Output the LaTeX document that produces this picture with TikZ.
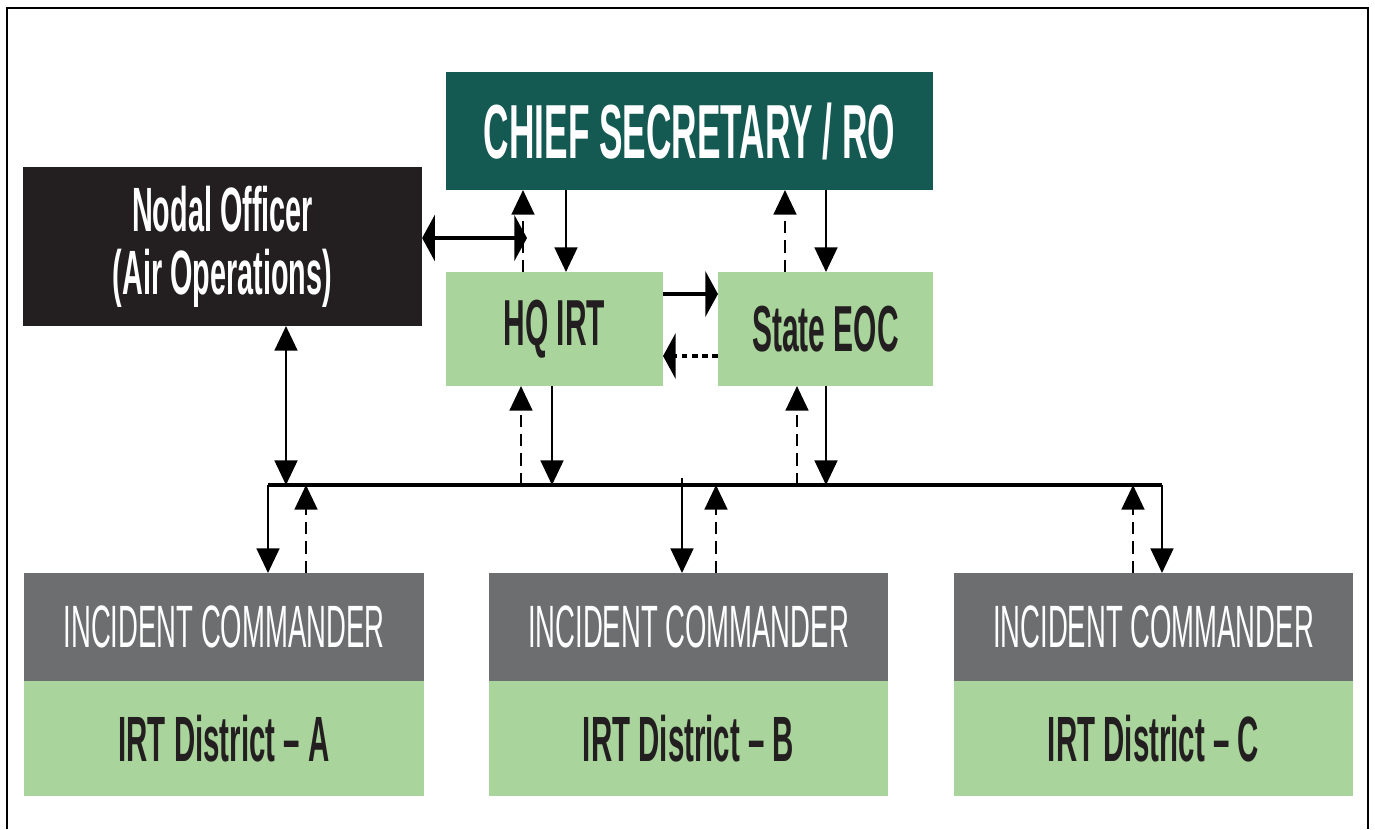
\documentclass[tikz,border=0pt]{standalone}
\usepackage{fontspec}
\usetikzlibrary{arrows.meta}
\newfontfamily\condfont[FakeStretch=0.46]{Liberation Sans}
\definecolor{chiefgreen}{RGB}{20,90,82}
\definecolor{nodalblack}{RGB}{35,31,32}
\definecolor{lightgreen}{RGB}{169,212,155}
\definecolor{icgray}{RGB}{109,110,112}
\begin{document}
\begin{tikzpicture}[x=0.01cm,y=-0.01cm]
        % Styles
        \tikzstyle{box}=[inner sep=0pt,outer sep=0pt,text=nodalblack]
        \tikzstyle{vline}=[line width=0.6pt,>={Triangle[length=7pt,width=6.5pt]}]
        \tikzstyle{hline}=[line width=1.4pt,>={Triangle[length=3.6pt,width=13pt]}]
        \tikzstyle{report}=[dash pattern=on 3.5pt off 2pt]
        \tikzstyle{hreport}=[dash pattern=on 1.6pt off 1.3pt]
        \useasboundingbox (0,0) rectangle (1375,829);
        %frame
        \draw[line width=0.8pt] (7,829) -- (7,8) -- (1368,8) -- (1368,829);
        %boxes
        \node[box,fill=chiefgreen,text=white,minimum width=4.87cm,minimum height=1.18cm,
              font=\condfont\bfseries\fontsize{21.8}{24}\selectfont] (chief) at (689.5,131) {CHIEF SECRETARY / RO};
        \node[box,fill=nodalblack,text=white,minimum width=3.99cm,minimum height=1.59cm,align=center,
              font=\condfont\bfseries\fontsize{17.8}{17.9}\selectfont] (nodal) at (222.5,246.5) {Nodal Officer\\(Air Operations)};
        \node[box,fill=lightgreen,minimum width=2.17cm,minimum height=1.14cm,
              font=\condfont\bfseries\fontsize{18.5}{20}\selectfont] (hq) at (554.5,329) {HQ IRT};
        \node[box,fill=lightgreen,minimum width=2.15cm,minimum height=1.14cm,
              font=\condfont\bfseries\fontsize{18.5}{20}\selectfont] (eoc) at (825.5,329) {State EOC};
        \foreach \n/\cx in {A/224,B/688.5,C/1153.5}
        {
            \node[box,fill=icgray,text=white,minimum width=3.99cm,minimum height=1.08cm,
                  font=\condfont\fontsize{17}{18}\selectfont] (ic\n) at (\cx,627) {INCIDENT COMMANDER};
            \node[box,fill=lightgreen,minimum width=3.99cm,minimum height=1.15cm,
                  font=\condfont\bfseries\fontsize{18.2}{20}\selectfont] (irt\n) at (\cx,738.5) {IRT District – \n};
        }
        %top links
        \coordinate (hqtie) at (527,238);
        \draw[hline,<->] (nodal.east |- hqtie) -- (hqtie);
        \draw[vline,report,->] (hq.north -| 523,0) -- (chief.south -| 523,0);
        \draw[vline,->] (chief.south -| 566,0) -- (hq.north -| 566,0);
        \draw[vline,report,->] (eoc.north -| 785,0) -- (chief.south -| 785,0);
        \draw[vline,->] (chief.south -| 826,0) -- (eoc.north -| 826,0);
        \draw[hline,->] (hq.east |- 0,294) -- (eoc.west |- 0,294);
        \draw[hline,hreport,->] (eoc.west |- 0,356) -- (hq.east |- 0,356);
        %bus
        \coordinate (busL) at (268,485);
        \coordinate (busR) at (1162,485);
        \coordinate (tapB) at (682,478);
        \draw[line width=1.4pt] (busL) -- (busR);
        \draw[vline,<->] (nodal.south -| 286,0) -- (busL -| 286,0);
        \draw[vline,report,->] (busL -| 521,0) -- (hq.south -| 521,0);
        \draw[vline,->] (hq.south -| 552,0) -- (busL -| 552,0);
        \draw[vline,report,->] (busL -| 797,0) -- (eoc.south -| 797,0);
        \draw[vline,->] (eoc.south -| 826,0) -- (busL -| 826,0);
        %districts
        \draw[vline,->] (busL) -- (icA.north -| busL);
        \draw[vline,report,->] (icA.north -| 306,0) -- (busL -| 306,0);
        \draw[vline,->] (tapB) -- (icB.north -| tapB);
        \draw[vline,report,->] (icB.north -| 716,0) -- (busL -| 716,0);
        \draw[vline,report,->] (icC.north -| 1133,0) -- (busL -| 1133,0);
        \draw[vline,->] (busR) -- (icC.north -| busR);
\end{tikzpicture}
\end{document}
